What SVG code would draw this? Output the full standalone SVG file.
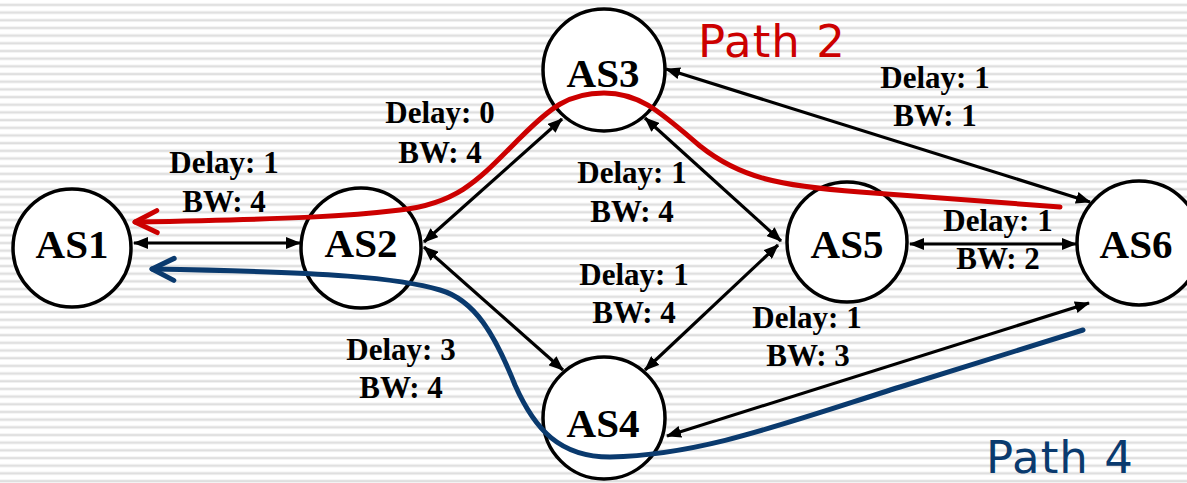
<svg xmlns="http://www.w3.org/2000/svg" width="1187" height="483" viewBox="0 0 1187 483">
  <defs>
    <pattern id="stripes" patternUnits="userSpaceOnUse" width="20" height="7.68">
      <rect x="0" y="3.4" width="20" height="3" fill="#ececec"/>
      <rect x="0" y="4.2" width="20" height="1.4" fill="#dcdcdc"/>
    </pattern>
    <marker id="tri" viewBox="0 0 15 12" refX="14" refY="6" markerWidth="15" markerHeight="12" markerUnits="userSpaceOnUse" orient="auto-start-reverse">
      <path d="M0,0 L15,6 L0,12 z" fill="#000"/>
    </marker>
    <marker id="chevRed" viewBox="-26 -14 30 28" refX="0" refY="0" markerWidth="30" markerHeight="28" markerUnits="userSpaceOnUse" orient="auto">
      <path d="M-22,-11 L0,0 L-22,11" fill="none" stroke="#cc0000" stroke-width="5" stroke-linecap="round" stroke-linejoin="round"/>
    </marker>
    <marker id="chevBlue" viewBox="-26 -14 30 28" refX="0" refY="0" markerWidth="30" markerHeight="28" markerUnits="userSpaceOnUse" orient="auto">
      <path d="M-22,-11 L0,0 L-22,11" fill="none" stroke="#0a3a6e" stroke-width="5" stroke-linecap="round" stroke-linejoin="round"/>
    </marker>
  </defs>
  <style>
    .link { stroke: #000; stroke-width: 3.2; fill: none; marker-start: url(#tri); marker-end: url(#tri); }
    .node circle { fill: #fff; stroke: #000; stroke-width: 3.5; }
    .node text { font-family: "Liberation Serif", "Times New Roman", serif; font-weight: bold; font-size: 41px; text-anchor: middle; fill: #000; }
    .lbl { font-family: "Liberation Serif", "Times New Roman", serif; font-weight: bold; font-size: 31px; text-anchor: middle; fill: #000; }
    .route { fill: none; stroke-width: 5; stroke-linecap: round; }
    .ptitle { font-family: "DejaVu Sans", Verdana, sans-serif; font-size: 45px; letter-spacing: 1px; }
  </style>

  <rect width="1187" height="483" fill="#fff"/>
  <rect width="1187" height="483" fill="url(#stripes)"/>

  <!-- links between autonomous systems -->
  <g id="connectors">
    <line class="link" x1="134" y1="243" x2="300" y2="243"/>
    <line class="link" x1="424" y1="242" x2="562" y2="119"/>
    <line class="link" x1="424" y1="247" x2="563" y2="370"/>
    <line class="link" x1="645" y1="118" x2="781" y2="241"/>
    <line class="link" x1="645" y1="370" x2="778" y2="245"/>
    <line class="link" x1="666" y1="69" x2="1090" y2="202"/>
    <line class="link" x1="910" y1="244" x2="1076" y2="244"/>
    <line class="link" x1="667" y1="436" x2="1089" y2="303"/>
  </g>

  <!-- link metrics -->
  <g id="labels">
    <text class="lbl" x="224" y="173">Delay: 1</text>
    <text class="lbl" x="224" y="212">BW: 4</text>
    <text class="lbl" x="440" y="123">Delay: 0</text>
    <text class="lbl" x="440" y="163">BW: 4</text>
    <text class="lbl" x="632" y="183">Delay: 1</text>
    <text class="lbl" x="632" y="222">BW: 4</text>
    <text class="lbl" x="634" y="285">Delay: 1</text>
    <text class="lbl" x="634" y="323">BW: 4</text>
    <text class="lbl" x="401" y="360">Delay: 3</text>
    <text class="lbl" x="401" y="398">BW: 4</text>
    <text class="lbl" x="807" y="328">Delay: 1</text>
    <text class="lbl" x="808" y="366">BW: 3</text>
    <text class="lbl" x="935" y="88">Delay: 1</text>
    <text class="lbl" x="935" y="126">BW: 1</text>
    <text class="lbl" x="998" y="231">Delay: 1</text>
    <text class="lbl" x="998" y="269">BW: 2</text>
  </g>

  <g id="AS1" class="node"><circle cx="72" cy="248" r="59"/><text x="72" y="258">AS1</text></g>
  <g id="AS2" class="node"><circle cx="361" cy="248" r="60"/><text x="361" y="257">AS2</text></g>
  <g id="AS3" class="node"><circle cx="604" cy="70" r="61"/><text x="603" y="87">AS3</text></g>
  <g id="AS4" class="node"><circle cx="604" cy="418" r="61"/><text x="603" y="437">AS4</text></g>
  <g id="AS5" class="node"><circle cx="847" cy="242" r="60"/><text x="847" y="258">AS5</text></g>
  <g id="AS6" class="node"><circle cx="1139" cy="243" r="62"/><text x="1136" y="258">AS6</text></g>

  <!-- routing paths -->
  <g id="routes">
    <path class="route" stroke="#cc0000" marker-end="url(#chevRed)"
          d="M1060,207 L860,192 C780,186 740,178 700,146 C660,112 640,93 604,93 C568,93 550,108 520,138 C480,178 460,203 400,210 C350,216 300,219 135,222"/>
    <path class="route" stroke="#0a3a6e" marker-end="url(#chevBlue)"
          d="M1083,330 L900,387 C780,425 700,455 610,457 C560,457 535,430 515,385 C495,335 475,300 440,290 C400,278 330,272 152,269"/>
    <text class="ptitle" x="698" y="57" fill="#cc0000">Path 2</text>
    <text class="ptitle" x="986" y="473" fill="#0a3a6e">Path 4</text>
  </g>
</svg>
